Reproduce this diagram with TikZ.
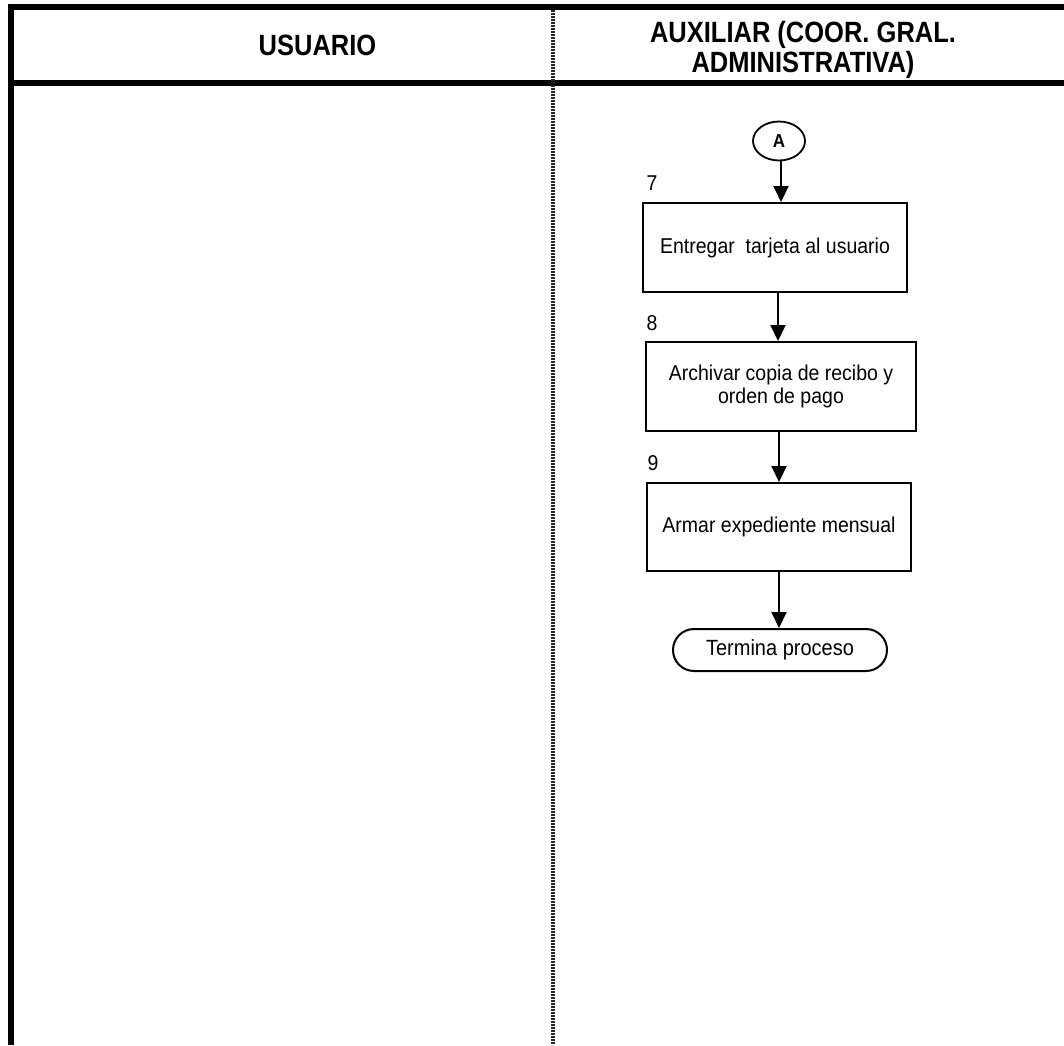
\documentclass[tikz,border=0pt]{standalone}
\usepackage{fontspec}
\setmainfont{Liberation Sans}
\usetikzlibrary{arrows.meta,shapes.geometric}
\newcommand{\vsb}[1]{\scalebox{1}[1.1]{#1}}
\newcommand{\vsh}[1]{\scalebox{1}[1.15]{#1}}
\begin{document}
\begin{tikzpicture}[x=1pt,y=-1pt,
  frameline/.style={line width=6pt,line join=miter},
  divider/.style={line width=4pt,dash pattern=on 1.7pt off 1.3pt,black!85},
  proc/.style={draw,line width=2pt,minimum width=264pt,minimum height=89pt,align=center,inner sep=0pt,font=\fontsize{19.5}{23}\selectfont},
  flow/.style={line width=2pt,-{Triangle[width=15pt,length=16pt]}},
  numlbl/.style={font=\fontsize{19.5}{22}\selectfont,inner sep=0pt},
  headtxt/.style={font=\fontsize{25.5}{30}\selectfont\bfseries,align=center,inner sep=0pt}]
\useasboundingbox (0,0) rectangle (1064,1045);
\fill[white] (0,0) rectangle (1064,1045);
% frame
\draw[frameline] (11,1045) -- (11,7) -- (1064,7);
\draw[frameline] (11,83) -- (1064,83);
\draw[divider] (553,10) -- (553,1045);
% headers
\node[headtxt] (h1) at (317.5,45.5) {\vsh{USUARIO}};
\node[headtxt] (h2) at (803,50) {\vsh{AUXILIAR (COOR. GRAL.}\\\vsh{ADMINISTRATIVA)}};
% flow
\node[draw,ellipse,line width=1.8pt,minimum width=52pt,minimum height=39pt,inner sep=0pt,font=\fontsize{17}{18}\selectfont\bfseries] (A) at (779,141) {\vsb{A}};
\node[proc] (b1) at (775,247.5) {\vsb{Entregar\ \ tarjeta al usuario}};
\node[proc,minimum width=270pt] (b2) at (781,386.5) {\vsb{Archivar copia de recibo y}\\\vsb{orden de pago}};
\node[proc,minimum height=88pt] (b3) at (779,527) {\vsb{Armar expediente mensual}};
\node[draw,line width=2pt,rounded corners=21pt,minimum width=214pt,minimum height=42pt,inner sep=0pt,font=\fontsize{20}{22}\selectfont] (t) at (780,650) {\vsb{Termina proceso}};
\node[numlbl] (n7) at (652,183) {\vsb{7}};
\node[numlbl] (n8) at (652,323) {\vsb{8}};
\node[numlbl] (n9) at (653,463) {\vsb{9}};
\draw[flow] ([xshift=2pt]A.south) -- ([xshift=2pt]A.south |- b1.north);
\draw[flow] ([xshift=3pt]b1.south) -- ([xshift=3pt]b1.south |- b2.north);
\draw[flow] ([xshift=-2pt]b2.south) -- ([xshift=-2pt]b2.south |- b3.north);
\draw[flow] (b3.south) -- (b3.south |- t.north);
\end{tikzpicture}
\end{document}
